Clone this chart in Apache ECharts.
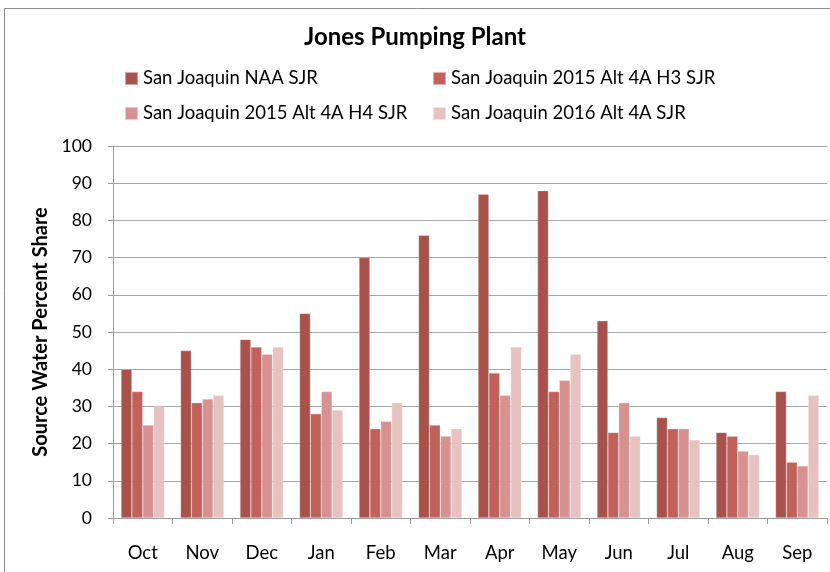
<!DOCTYPE html>
<html><head><meta charset="utf-8">
<script src="https://cdn.jsdelivr.net/npm/echarts@6/dist/echarts.min.js"></script>
<style>html,body{margin:0;padding:0;background:#fff}#c{width:830px;height:572px}</style>
</head><body><div id="c"></div>
<script>
const categories = ['Oct','Nov','Dec','Jan','Feb','Mar','Apr','May','Jun','Jul','Aug','Sep'];
const seriesNames = ['San Joaquin NAA SJR','San Joaquin 2015 Alt 4A H3 SJR','San Joaquin 2015 Alt 4A H4 SJR','San Joaquin 2016 Alt 4A SJR'];
const naa   = [40,45,48,55,70,76,87,88,53,27,23,34];
const h3    = [34,31,46,28,24,25,39,34,23,24,22,15];
const h4    = [25,32,44,34,26,22,33,37,31,24,18,14];
const alt16 = [30,33,46,29,31,24,46,44,22,21,17,33];
const yTicks = [0,10,20,30,40,50,60,70,80,90,100];
const colors = ['#A9514B','#C1615B','#D69190','#E6C3C1'];
const font = 'Lato, "Open Sans", sans-serif';
const chart = echarts.init(document.getElementById('c'), null, {renderer:'canvas'});
const values = [naa,h3,h4,alt16];
const legendPos = [{left:124,top:69},{left:432,top:69},{left:124,top:104},{left:432,top:104}];
chart.setOption({
  animation:false,
  backgroundColor:'#fff',
  color: colors,
  title:{text:'Jones Pumping Plant',left:'center',top:20,padding:5,textStyle:{fontFamily:font,fontSize:24,fontWeight:'bold',color:'#000'}},
  legend: seriesNames.map((n,i)=>({data:[n],left:legendPos[i].left,top:legendPos[i].top,padding:0,itemWidth:13,itemHeight:13,itemGap:5,icon:'rect',
    textStyle:{fontFamily:font,fontSize:18.5,color:'#000',padding:[0,0,0,0]}})),
  grid:{left:113,right:3,top:146,bottom:54,containLabel:false},
  xAxis:{type:'category',data:categories,boundaryGap:true,
    axisLine:{lineStyle:{color:'#9a9a9a',width:1}},
    axisTick:{show:true,alignWithLabel:false,length:6,lineStyle:{color:'#9a9a9a'}},
    axisLabel:{fontFamily:font,fontSize:18.5,color:'#000',margin:26}},
  yAxis:{type:'value',min:0,max:100,interval:10,
    name:'Source Water Percent Share',nameLocation:'middle',nameGap:62,nameRotate:90,
    nameTextStyle:{fontFamily:font,fontSize:20,fontWeight:'bold',color:'#000'},
    axisLine:{show:true,lineStyle:{color:'#9a9a9a'}},
    axisTick:{show:true,length:5,lineStyle:{color:'#9a9a9a'}},
    axisLabel:{fontFamily:font,fontSize:17.5,color:'#000',margin:21,formatter:v=>yTicks.includes(v)?String(v):''},
    splitLine:{lineStyle:{color:'#a6a6a6',width:1}}},
  graphic:[{type:'rect',shape:{x:4.5,y:8.5,width:830,height:570},style:{fill:'none',stroke:'#8c8c8c',lineWidth:1},silent:true}],
  series: seriesNames.map((n,i)=>({name:n,type:'bar',data:values[i],barGap:'0%',barCategoryGap:'27%',
    itemStyle:{color:colors[i],borderColor:'rgba(255,255,255,0.5)',borderWidth:0.5}}))
});
</script></body></html>
